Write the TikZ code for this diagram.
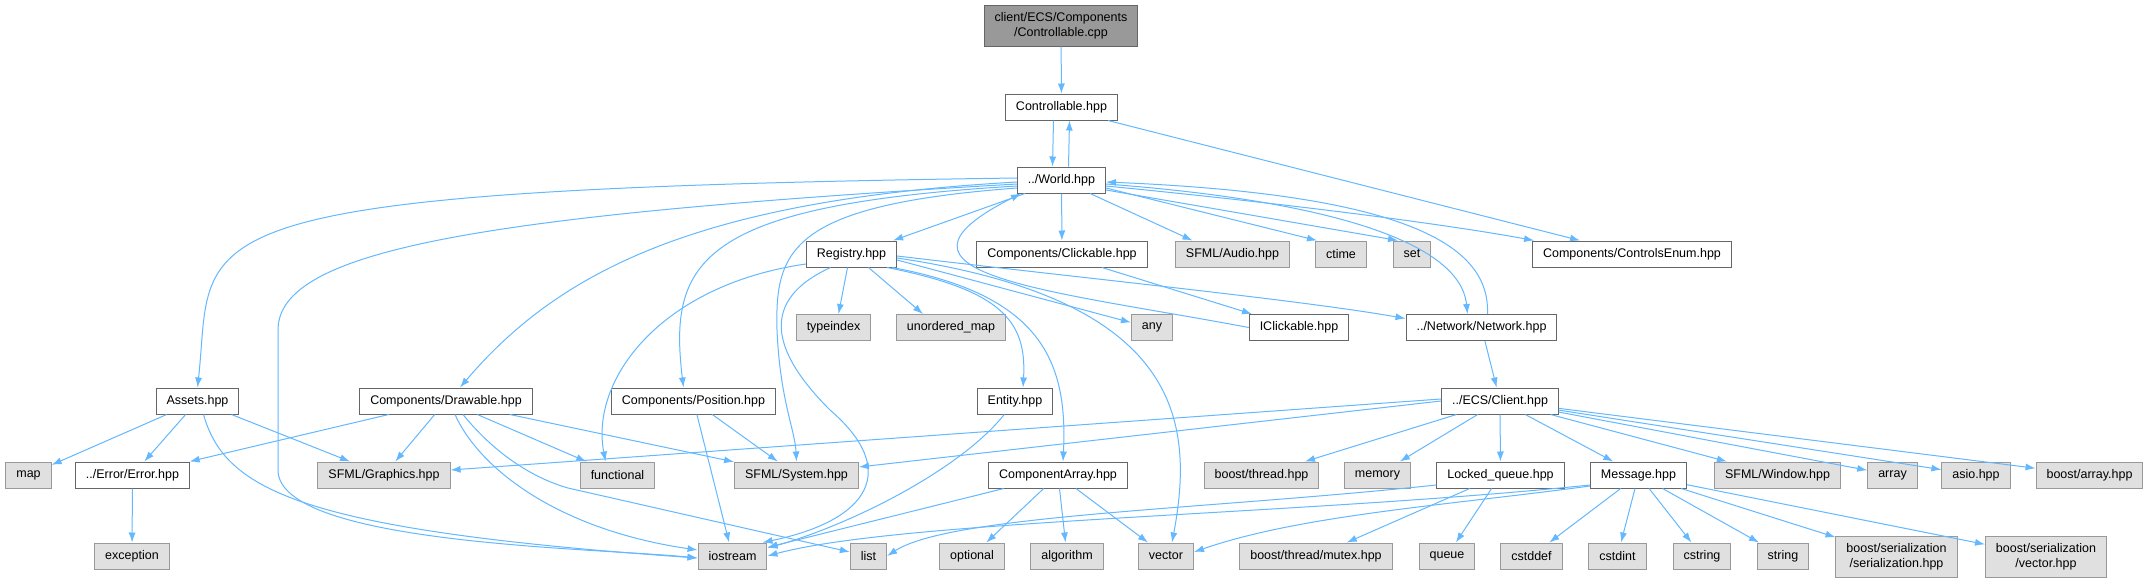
\documentclass[tikz,border=0pt]{standalone}
\usepackage{fontspec}
\setmainfont{Liberation Sans}
\usetikzlibrary{arrows.meta}
\definecolor{EdgeBlue}{HTML}{63B8FF}
\definecolor{FileBorder}{HTML}{666666}
\definecolor{SysBorder}{HTML}{999999}
\definecolor{SysFill}{HTML}{E0E0E0}
\definecolor{MainFill}{HTML}{999999}
\tikzset{
  filenode/.style={draw=FileBorder,fill=white,line width=1pt,minimum height=26pt,inner xsep=10.5pt,inner ysep=2pt,align=center,font=\fontsize{12.5}{15}\selectfont},
  mainnode/.style={filenode,fill=MainFill,minimum height=41pt},
  sysnode/.style={filenode,draw=SysBorder,fill=SysFill},
  twoline/.style={minimum height=41pt},
  dep/.style={-{Latex[length=10pt,width=7pt]},line width=1pt,draw=EdgeBlue}
}

\begin{document}
\begin{tikzpicture}[x=1pt,y=-1pt]
\fill[white] (0,0) rectangle (2150,582);
\useasboundingbox (0,0) rectangle (2150,582);

% files
\node[mainnode] (cpp) at (1061,25.5) {client/ECS/Components\\/Controllable.cpp};
\node[filenode] (ctrlhpp) at (1061.5,107) {Controllable.hpp};
\node[filenode] (world) at (1061.5,180) {../World.hpp};
\node[filenode] (registry) at (851.5,254) {Registry.hpp};
\node[filenode] (clickable) at (1062,254) {Components/Clickable.hpp};
\node[sysnode] (audio) at (1232.5,254) {SFML/Audio.hpp};
\node[sysnode] (ctime) at (1341,254) {ctime};
\node[sysnode] (set) at (1412,254) {set};
\node[filenode] (ctrlenum) at (1632,254) {Components/ControlsEnum.hpp};
\node[sysnode] (typeindex) at (833.5,327.5) {typeindex};
\node[sysnode] (unorderedmap) at (951,327.5) {unordered\_map};
\node[sysnode] (any) at (1152,327.5) {any};
\node[filenode] (iclickable) at (1299,327.5) {IClickable.hpp};
\node[filenode] (network) at (1481.5,327.5) {../Network/Network.hpp};
\node[filenode] (assets) at (197.5,401) {Assets.hpp};
\node[filenode] (drawable) at (446,401) {Components/Drawable.hpp};
\node[filenode] (position) at (693.5,401) {Components/Position.hpp};
\node[filenode] (entity) at (1015,401) {Entity.hpp};
\node[filenode] (client) at (1500,401) {../ECS/Client.hpp};
\node[sysnode] (map) at (28.5,475) {map};
\node[filenode] (error) at (132.5,475) {../Error/Error.hpp};
\node[sysnode] (graphics) at (384,475) {SFML/Graphics.hpp};
\node[sysnode] (functional) at (617.5,475) {functional};
\node[sysnode] (system) at (796.5,475) {SFML/System.hpp};
\node[filenode] (comparray) at (1058,475) {ComponentArray.hpp};
\node[sysnode] (bthread) at (1261.5,475) {boost/thread.hpp};
\node[sysnode] (memory) at (1377.5,475) {memory};
\node[filenode] (lockedq) at (1500.5,475) {Locked\_queue.hpp};
\node[filenode] (message) at (1638.5,475) {Message.hpp};
\node[sysnode] (window) at (1777.5,475) {SFML/Window.hpp};
\node[sysnode] (array) at (1892.5,475) {array};
\node[sysnode] (asio) at (1976,475) {asio.hpp};
\node[sysnode] (barray) at (2089.5,475) {boost/array.hpp};
\node[sysnode] (exception) at (132,556) {exception};
\node[sysnode] (iostream) at (732.5,556) {iostream};
\node[sysnode] (list) at (868.5,556) {list};
\node[sysnode] (optional) at (972,556) {optional};
\node[sysnode] (algorithm) at (1067,556) {algorithm};
\node[sysnode] (vector) at (1166,556) {vector};
\node[sysnode] (mutex) at (1316,556) {boost/thread/mutex.hpp};
\node[sysnode] (queue) at (1447,556) {queue};
\node[sysnode] (cstddef) at (1531.5,556) {cstddef};
\node[sysnode] (cstdint) at (1617.5,556) {cstdint};
\node[sysnode] (cstring) at (1702,556) {cstring};
\node[sysnode] (string) at (1783,556) {string};
\node[sysnode,twoline] (serial) at (1896.5,556.5) {boost/serialization\\/serialization.hpp};
\node[sysnode,twoline] (svector) at (2046,556.5) {boost/serialization\\/vector.hpp};

% top
\draw[dep] (cpp) -- (ctrlhpp);
\draw[dep] ([xshift=-8pt]ctrlhpp.south) -- ([xshift=-9pt]world.north);
\draw[dep] ([xshift=7pt]world.north) -- ([xshift=8pt]ctrlhpp.south);
\draw[dep] ([xshift=-10pt]ctrlhpp.south east) -- ([xshift=-52pt]ctrlenum.north);

% World.hpp
\draw[dep] ([xshift=8pt]world.south west) -- ([xshift=-4pt]registry.north east);
\draw[dep] (world) -- (clickable);
\draw[dep] ([xshift=-16pt]world.south east) -- ([xshift=-40pt]audio.north);
\draw[dep] ([yshift=-8pt]world.east) -- ([xshift=-24pt]ctime.north);
\draw[dep] ([yshift=-10pt]world.east) -- ([xshift=-14pt]set.north);
\draw[dep] ([yshift=-6pt]world.east) .. controls (1300,205) and (1450,225) .. ([xshift=2pt]ctrlenum.north west);
\draw[dep] ([yshift=-4pt]world.east) .. controls (1320,200) and (1460,240) .. ([xshift=-14pt]network.north);
\draw[dep] ([xshift=6pt]network.north) .. controls (1490,250) and (1420,195) .. ([yshift=-2pt]world.east);
\draw[dep] (iclickable.west) .. controls (1050,290) and (860,275) .. ([xshift=4pt]world.south west);
\draw[dep] ([yshift=2pt]world.west) .. controls (150,190) and (215,230) .. (assets.north);
\draw[dep] ([yshift=-4pt]world.west) .. controls (480,215) and (278,250) .. (278,330) -- (278,470)
  .. controls (278,545) and (600,548) .. ([yshift=-2pt]iostream.west);
\draw[dep] ([yshift=-2pt]world.west) .. controls (700,200) and (560,270) .. ([xshift=14pt]drawable.north);
\draw[dep] ([yshift=-6pt]world.west) .. controls (700,205) and (668,260) .. ([xshift=-10pt]position.north);
\draw[dep] ([yshift=-8pt]world.west) .. controls (790,205) and (775,250) .. (777,330)
  .. controls (780,400) and (795,430) .. (system.north);
\draw[dep] ([xshift=40pt]clickable.south) -- ([xshift=-47pt]iclickable.north);

% Registry.hpp
\draw[dep] ([xshift=-4pt]registry.south) -- ([xshift=5pt]typeindex.north);
\draw[dep] ([xshift=17pt]registry.south) -- ([xshift=-28pt]unorderedmap.north);
\draw[dep] ([yshift=-6pt]registry.east) -- ([yshift=5pt]any.west);
\draw[dep] ([yshift=-2pt]registry.east) .. controls (1100,280) and (1300,300) .. ([yshift=9pt]network.west);
\draw[dep] ([yshift=-4pt]registry.east) .. controls (1180,300) and (1195,420) .. ([xshift=6pt]vector.north);
\draw[dep] ([xshift=-10pt]registry.south east) .. controls (1000,290) and (1027,320) .. ([xshift=8pt]entity.north);
\draw[dep] ([xshift=-5pt]registry.south east) .. controls (1040,295) and (1068,360) .. ([xshift=5pt]comparray.north);
\draw[dep] ([xshift=-21pt]registry.south) .. controls (760,300) and (770,350) .. (830,410)
  .. controls (900,470) and (870,520) .. ([xshift=30pt]iostream.north);
\draw[dep] ([yshift=-10pt]registry.west) .. controls (660,285) and (590,380) .. ([xshift=-12pt]functional.north);

% Network and client
\draw[dep] (network) -- (client);
\draw[dep] ([yshift=2pt]client.west) -- ([yshift=5pt]graphics.east);
\draw[dep] (client.west) -- ([yshift=8pt]system.east);
\draw[dep] (client) -- (bthread);
\draw[dep] (client) -- (memory);
\draw[dep] (client) -- (lockedq);
\draw[dep] (client) -- (message);
\draw[dep] (client) -- (window);
\draw[dep] (client) -- (array);
\draw[dep] (client) -- (asio);
\draw[dep] (client) -- (barray);

% Locked_queue and Message
\draw[dep] ([yshift=-10pt]lockedq.west) .. controls (1200,510) and (950,515) .. (list.east);
\draw[dep] (lockedq) -- (mutex);
\draw[dep] (lockedq) -- (queue);
\draw[dep] ([yshift=-10pt]message.west) .. controls (1300,515) and (900,520) .. (iostream.east);
\draw[dep] ([yshift=-11pt]message.west) .. controls (1450,505) and (1300,515) .. ([yshift=4pt]vector.east);
\draw[dep] (message) -- (cstddef);
\draw[dep] (message) -- (cstdint);
\draw[dep] (message) -- (cstring);
\draw[dep] (message) -- (string);
\draw[dep] (message) -- (serial);
\draw[dep] (message) -- (svector);

% ComponentArray and Entity
\draw[dep] (comparray) -- (iostream);
\draw[dep] (comparray) -- (optional);
\draw[dep] (comparray) -- (algorithm);
\draw[dep] (comparray) -- (vector);
\draw[dep] (entity) .. controls (960,470) and (850,525) .. ([yshift=8pt]iostream.east);

% Position, Drawable, Assets
\draw[dep] (position) -- (system);
\draw[dep] (position) -- (iostream);
\draw[dep] (drawable) -- (error);
\draw[dep] (drawable) -- (graphics);
\draw[dep] (drawable) -- (functional);
\draw[dep] (drawable) -- (system);
\draw[dep] ([xshift=9pt]drawable.south) .. controls (480,470) and (560,530) .. ([yshift=6pt]iostream.west);
\draw[dep] ([xshift=17pt]drawable.south) .. controls (500,460) and (540,480) .. (568,488) -- ([yshift=4pt]list.west);
\draw[dep] (assets) -- (map);
\draw[dep] (assets) -- (error);
\draw[dep] (assets) -- (graphics);
\draw[dep] ([xshift=6pt]assets.south) .. controls (225,490) and (300,530) .. ([yshift=-2pt]iostream.west);
\draw[dep] (error) -- (exception);
\end{tikzpicture}
\end{document}
